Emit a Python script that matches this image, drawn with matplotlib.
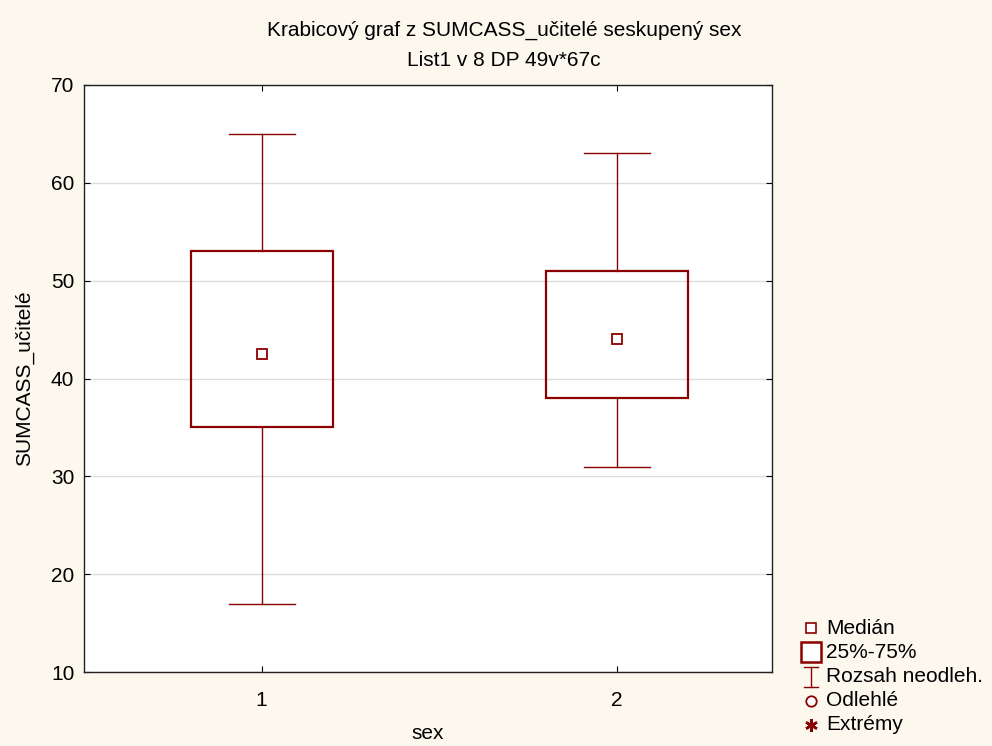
import matplotlib
matplotlib.use("Agg")
import matplotlib.pyplot as plt
from matplotlib.lines import Line2D
from matplotlib.patches import Rectangle

plt.rcParams['font.family'] = ['Liberation Sans', 'DejaVu Sans']

categories = ["1", "2"]
medians = [42.5, 44.0]
q1 = [35.0, 38.0]
q3 = [53.0, 51.0]
whisk_lo = [17.0, 31.0]
whisk_hi = [65.0, 63.0]

title_lines = ["Krabicový graf z SUMCASS_učitelé seskupený sex", "List1 v 8 DP 49v*67c"]
xlabel = "sex"
ylabel = "SUMCASS_učitelé"
legend_labels = ["Medián", "25%-75%", "Rozsah neodleh.", "Odlehlé", "Extrémy"]

col = "#8B0000"
bg = "#FDF8EE"
fs = 15

fig = plt.figure(figsize=(9.92, 7.46), dpi=100, facecolor=bg)
ax = fig.add_axes([84/992, 1-672/746, (772-84)/992, (672-85)/746])
ax.set_facecolor("white")

bw = 0.4
cw = 0.186
for i, c in enumerate(categories):
    x = i + 1
    ax.add_patch(Rectangle((x - bw/2, q1[i]), bw, q3[i]-q1[i], fill=False,
                           edgecolor=col, lw=1.6, zorder=3))
    ax.plot([x, x], [q3[i], whisk_hi[i]], color=col, lw=1.0, zorder=3)
    ax.plot([x, x], [whisk_lo[i], q1[i]], color=col, lw=1.0, zorder=3)
    ax.plot([x - cw/2, x + cw/2], [whisk_hi[i]]*2, color=col, lw=1.0, zorder=3)
    ax.plot([x - cw/2, x + cw/2], [whisk_lo[i]]*2, color=col, lw=1.0, zorder=3)
    ax.plot([x], [medians[i]], marker='s', ms=7, mfc='white', mec=col, mew=1.3, zorder=4)

ax.set_xlim(0.5, 2.437)
ax.set_ylim(10, 70)
ax.set_xticks([1, 2])
ax.set_xticklabels(categories)
ax.set_yticks(range(10, 71, 10))
ax.yaxis.grid(True, color="#dddddd", lw=1.0)
ax.set_axisbelow(True)
ax.tick_params(direction='in', length=4, top=True, right=True, labelsize=fs)
ax.tick_params(axis='x', pad=14)
ax.tick_params(axis='y', pad=7)
for s in ax.spines.values():
    s.set_linewidth(1.0)
    s.set_color("#222222")

ax.set_xlabel(xlabel, fontsize=fs, labelpad=10)
ax.set_ylabel(ylabel, fontsize=fs, labelpad=12)
fig.text(0.508, 1-30/746, title_lines[0], ha='center', va='center', fontsize=fs)
fig.text(0.508, 1-60/746, title_lines[1], ha='center', va='center', fontsize=fs)

# legend
ys = [628, 652, 677, 701, 725]
mx = 811/992
tx = 826/992
fig.add_artist(Line2D([mx], [1-ys[0]/746], marker='s', ms=7, mfc='white', mec=col, mew=1.2, transform=fig.transFigure))
fig.add_artist(Line2D([mx], [1-ys[1]/746], marker='s', ms=14, mfc='white', mec=col, mew=1.8, transform=fig.transFigure))
yy = 1-ys[2]/746
fig.add_artist(Line2D([mx, mx], [yy-10/746, yy+10/746], color=col, lw=1, transform=fig.transFigure))
fig.add_artist(Line2D([mx-7/992, mx+7/992], [yy+10/746]*2, color=col, lw=1, transform=fig.transFigure))
fig.add_artist(Line2D([mx-7/992, mx+7/992], [yy-10/746]*2, color=col, lw=1, transform=fig.transFigure))
fig.add_artist(Line2D([mx], [1-ys[3]/746], marker='o', ms=7.5, mfc='white', mec=col, mew=1.3, transform=fig.transFigure))
fig.add_artist(Line2D([mx], [1-ys[4]/746], marker=(6, 2, 0), ms=9, mec=col, mew=1.8, transform=fig.transFigure))
for y, lab in zip(ys, legend_labels):
    fig.text(tx, 1-y/746, lab, ha='left', va='center', fontsize=fs)

fig.savefig("out.png", dpi=100, facecolor=bg)
